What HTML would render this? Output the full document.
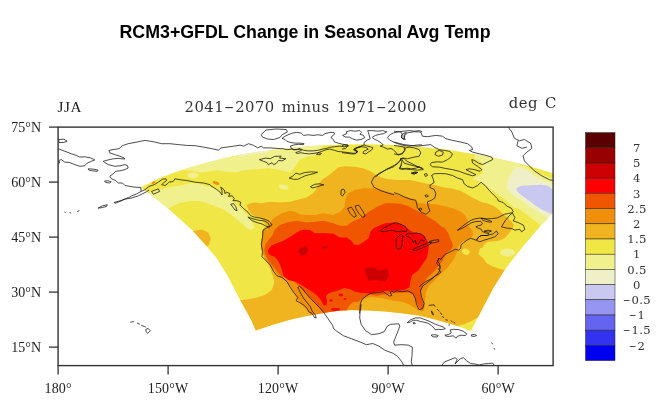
<!DOCTYPE html>
<html><head><meta charset="utf-8"><title>RCM3+GFDL Change in Seasonal Avg Temp</title>
<style>
html,body{margin:0;padding:0;background:#fff;}
body{width:670px;height:420px;position:relative;overflow:hidden;}
.ttl{font-family:"Liberation Sans",sans-serif;font-weight:bold;font-size:17.8px;fill:#000;}
.sub{font-family:"DejaVu Serif","Liberation Serif",serif;font-size:14.8px;letter-spacing:0.45px;word-spacing:2px;fill:#333;}
.jja{font-family:"Liberation Serif",serif;font-size:15.2px;letter-spacing:0.6px;fill:#222;}
.ax{font-family:"Liberation Serif",serif;font-size:14px;fill:#222;}
.axb{font-family:"Liberation Serif",serif;font-size:14px;letter-spacing:0.15px;fill:#222;}
.cbl{font-family:"DejaVu Serif","Liberation Serif",serif;font-size:11.6px;letter-spacing:0.4px;fill:#333;}
</style></head><body>
<svg width="670" height="420" viewBox="0 0 670 420" style="position:absolute;left:0;top:0">
<defs><clipPath id="dom"><polygon points="141.0,187.5 158.0,178.8 175.5,172.0 193.0,166.5 208.0,162.5 226.0,157.8 242.7,154.2 259.3,151.7 276.0,149.5 292.7,147.8 309.3,146.3 326.0,145.2 345.0,144.4 363.4,144.2 380.0,144.5 394.8,145.2 404.7,145.8 419.0,146.8 430.0,148.0 448.0,149.7 464.7,152.5 481.3,155.3 498.0,158.7 514.7,162.5 531.3,166.7 548.0,171.7 552.7,173.3 560.0,176.0 560.0,207.0 552.7,212.7 541.3,225.0 531.3,236.7 524.2,245.0 513.3,258.5 503.3,272.0 493.3,288.0 483.3,307.0 470.8,331.2 464.6,328.6 455.0,325.2 445.5,322.4 435.3,319.6 418.7,315.6 402.0,313.2 385.3,311.5 368.7,310.4 352.0,310.0 340.0,310.6 326.0,312.4 306.7,316.0 290.0,319.8 273.3,324.6 255.8,330.4 251.0,319.5 238.5,297.0 227.0,274.8 217.0,258.8 204.5,243.8 192.0,230.0 179.5,218.8 167.0,207.5 154.5,197.5"/></clipPath><clipPath id="frm"><rect x="58.1" y="127.1" width="495.0" height="238.50000000000003"/></clipPath></defs>
<g clip-path="url(#frm)"><g clip-path="url(#dom)" shape-rendering="auto">
<rect x="100" y="120" width="480" height="240" fill="#f0e646"/>
<polygon points="183.0,170.0 193.0,171.0 200.5,172.5 208.0,171.7 217.0,170.2 226.0,171.7 236.0,172.5 246.0,170.0 256.0,169.2 267.7,168.3 276.0,169.2 282.7,170.8 289.3,172.5 292.7,170.0 296.0,165.0 299.3,160.0 306.0,156.7 316.0,155.0 323.0,146.0 323.0,130.0 183.0,130.0" fill="#f0f08c"/>
<polygon points="148.0,193.0 160.0,189.5 170.0,187.0 180.0,185.5 190.0,183.0 200.0,184.0 208.0,186.5 217.0,189.0 224.0,194.0 231.0,199.0 237.0,205.0 244.5,212.5 252.0,220.0 254.5,228.0 251.0,230.0 247.0,228.5 242.0,223.8 234.5,217.5 224.5,210.0 212.0,205.0 200.0,201.0 190.0,201.0 180.0,203.0 172.0,206.5 166.0,210.0 140.0,200.0" fill="#f0f08c"/>
<polygon points="476.0,148.0 474.0,158.0 481.0,162.0 483.0,173.0 472.0,179.0 481.0,182.0 492.0,190.0 500.0,196.0 508.0,202.0 514.0,208.0 518.0,208.3 524.7,213.3 531.3,218.3 538.0,223.3 541.0,226.0 565.0,215.0 565.0,178.5 552.7,178.5 546.0,176.0 538.0,172.5 528.0,167.5 518.0,163.5 518.0,148.0" fill="#f0f08c"/>
<ellipse cx="283.7" cy="187" rx="5" ry="2.2" fill="#f0f08c" transform="rotate(15 283.7 187)"/>
<ellipse cx="193" cy="175.4" rx="5.5" ry="3" fill="#f0f08c"/>
<ellipse cx="507.5" cy="252.5" rx="7.5" ry="4" fill="#f0f08c"/>
<polygon points="518.0,166.7 514.7,168.3 511.3,173.3 508.0,180.0 506.3,186.7 509.7,191.7 514.7,196.7 521.3,200.0 529.7,206.7 538.0,211.7 546.3,217.5 565.0,212.0 565.0,183.7 552.7,183.7 544.7,180.8 538.0,178.3 531.3,173.3 524.7,169.2" fill="#f0f0c8"/>
<polygon points="239.0,157.2 246.0,155.2 254.0,154.0 262.0,153.0 270.0,152.2 270.0,148.0 239.0,152.0" fill="#f0f0c8"/>
<polygon points="516.3,188.3 521.3,185.8 531.3,185.3 541.3,184.7 548.0,185.8 552.7,190.0 565.0,195.0 565.0,216.0 552.2,214.2 548.0,212.5 541.3,209.2 534.7,205.0 528.0,200.0 521.3,195.0 517.0,191.0" fill="#c8c8f0"/>
<polygon points="246.7,205.0 253.3,202.5 261.7,203.3 270.0,201.7 280.0,202.5 290.0,201.7 296.7,200.0 306.7,197.5 313.3,193.0 317.0,188.3 319.3,183.3 322.7,179.2 329.3,175.0 338.0,167.5 344.7,166.3 354.7,166.7 363.0,168.3 371.3,171.7 376.3,175.0 381.3,177.5 388.0,179.2 398.0,180.0 408.6,180.0 417.2,181.5 425.8,183.6 434.4,185.0 443.0,187.2 451.6,188.6 460.2,190.8 467.3,194.4 474.5,198.7 481.7,202.2 487.8,203.6 493.7,206.0 498.5,209.6 502.1,213.1 511.6,221.5 514.0,225.1 511.6,229.9 508.1,234.6 504.5,238.2 499.7,240.6 493.7,241.2 487.8,241.8 484.2,244.2 482.4,247.8 480.0,248.3 478.3,254.2 483.3,258.3 486.7,263.3 493.3,266.7 502.5,269.7 535.0,272.0 535.0,305.0 482.0,314.0 480.0,315.5 475.2,319.1 470.4,321.5 464.5,323.9 458.5,325.7 455.0,328.0 452.0,345.0 230.0,345.0 230.0,301.0 241.7,300.0 248.3,299.2 256.7,297.5 265.0,295.0 271.7,290.0 274.2,283.3 273.3,276.7 270.0,268.3 267.0,262.0 264.5,258.7 262.0,251.5 260.8,244.3 262.0,237.0 262.5,230.0 266.0,225.8 262.0,220.0 256.7,216.7 252.5,215.0 248.3,210.0" fill="#f0b420"/>
<polygon points="190.0,231.5 202.0,229.5 208.3,232.5 210.8,238.8 209.0,245.0 206.0,246.5 200.0,246.0" fill="#f0b420"/>
<ellipse cx="465.8" cy="251.7" rx="4" ry="3" fill="#f0e646" transform="rotate(20 465.8 251.7)"/>
<ellipse cx="153.5" cy="182.5" rx="2" ry="1.2" fill="#f0900a" transform="rotate(-30 153.5 182.5)"/>
<ellipse cx="216" cy="183" rx="3.5" ry="1.5" fill="#f0900a" transform="rotate(20 216 183)"/>
<polygon points="266.7,230.0 269.2,225.8 271.7,220.0 275.8,216.7 281.7,213.3 290.0,210.8 295.0,211.7 300.0,214.2 306.7,215.0 315.0,215.0 323.3,213.3 333.3,215.0 340.0,211.7 344.5,206.7 345.5,199.0 348.0,193.3 354.7,190.0 363.0,188.3 371.3,188.3 379.7,189.2 388.0,191.7 396.3,194.2 400.0,195.8 407.2,197.2 414.3,199.4 418.6,203.0 428.7,203.7 437.2,204.4 445.8,206.5 454.4,208.7 461.6,212.3 465.9,216.6 468.0,220.9 467.5,223.9 469.9,227.5 472.8,231.0 472.8,235.8 469.9,238.2 463.9,240.6 460.3,244.2 458.3,246.7 456.7,253.3 453.3,260.0 448.3,266.7 441.7,273.3 435.0,280.0 428.3,286.7 425.8,293.3 425.0,303.3 424.2,310.0 422.0,311.5 417.8,310.0 413.7,307.5 408.7,304.2 402.0,301.7 393.7,300.8 386.0,299.0 381.7,298.0 376.0,297.5 370.2,297.3 365.9,298.5 361.6,301.5 360.9,305.8 361.6,310.8 361.0,320.0 314.0,320.0 307.0,310.0 300.0,303.0 296.0,296.0 291.0,288.0 286.0,281.5 281.0,277.5 276.0,273.0 271.0,267.0 266.5,261.0 264.0,256.0 262.3,251.5 261.0,244.3 262.2,237.2 263.0,230.0" fill="#f0900a"/>
<polygon points="264.9,253.9 264.3,249.1 265.5,244.3 269.1,239.6 272.7,234.8 274.5,230.0 280.0,225.0 286.7,222.5 296.7,220.8 306.7,222.5 315.0,221.7 323.3,220.8 333.3,223.3 340.0,225.8 346.7,225.8 352.0,221.7 360.3,218.3 368.7,211.7 377.0,206.7 385.3,203.3 393.7,203.3 400.0,203.7 407.2,205.8 414.3,209.4 421.5,213.0 428.7,217.3 435.8,221.6 441.5,226.5 444.8,228.0 448.4,233.4 450.7,239.4 452.5,243.0 453.0,246.0 451.5,249.0 447.3,252.5 444.8,256.4 442.5,261.0 438.5,266.0 434.5,271.0 428.3,276.7 423.3,283.3 420.3,293.3 423.7,305.0 422.0,310.0 418.7,306.7 416.2,301.7 413.7,295.0 408.7,292.5 402.0,292.5 393.7,293.3 377.0,295.8 370.2,294.8 365.9,296.0 361.6,298.7 358.8,301.5 353.0,302.2 350.2,304.4 347.3,308.7 347.0,320.0 322.0,320.0 323.0,313.0 318.7,307.2 311.5,299.3 304.3,292.0 298.6,285.8 293.0,281.0 285.8,278.4 281.0,276.0 277.5,271.8 272.7,265.8 267.9,259.9" fill="#f05500"/>
<polygon points="268.5,253.9 267.9,250.3 271.5,245.5 277.5,243.1 283.4,240.7 289.4,237.2 295.4,233.6 300.1,230.5 303.3,229.7 310.0,230.0 315.0,233.3 323.3,233.0 333.3,233.7 340.0,237.5 346.7,237.5 351.7,241.0 354.0,244.5 358.7,245.0 363.7,241.7 368.7,238.3 370.3,231.7 373.7,228.3 380.3,225.0 385.3,223.3 393.7,222.5 400.0,223.7 402.0,225.0 407.0,228.3 412.0,231.7 418.7,233.3 423.7,235.8 427.0,240.0 428.7,245.0 428.3,251.7 426.7,258.3 422.0,265.0 418.7,270.0 412.0,275.0 410.3,281.7 409.5,287.5 403.7,290.0 395.3,290.8 385.3,290.8 377.0,291.7 370.2,293.4 361.6,292.9 354.5,291.5 350.2,289.3 344.4,287.9 337.3,290.8 331.5,292.2 328.0,293.8 326.0,296.5 327.0,301.0 326.5,305.5 323.5,305.0 320.5,299.5 316.0,294.5 310.5,290.8 305.3,287.5 300.3,284.2 295.0,281.5 288.2,280.0 283.4,275.4 282.2,270.6 280.4,265.8 278.1,261.0 275.1,256.9 271.5,255.7" fill="#ff0000"/>
<ellipse cx="340.8" cy="295" rx="2.2" ry="1.4" fill="#ff0000"/>
<ellipse cx="335.5" cy="309.4" rx="4.6" ry="1.4" fill="#ff0000"/>
<ellipse cx="331" cy="300.5" rx="1.6" ry="1.2" fill="#ff0000"/>
<ellipse cx="345" cy="299" rx="1.5" ry="1" fill="#ff0000"/>
<polygon points="297.8,250.3 301.3,247.9 305.5,246.1 307.9,247.9 307.3,252.7 304.9,255.1 301.3,255.7 299.0,253.3" fill="#cc0000"/>
<ellipse cx="324.6" cy="247.3" rx="3" ry="1.3" fill="#cc0000"/>
<polygon points="364.5,268.3 373.7,267.5 380.3,270.8 387.8,268.3 388.7,276.7 385.3,281.7 377.0,280.0 368.7,280.8 366.2,275.0" fill="#cc0000"/>
</g>
<g fill="none" stroke="#111" stroke-width="0.75" stroke-linejoin="round">
<polygon points="58.8,139.5 63.9,139.2 67.2,141.2 63.9,142.4 58.8,142.6"/>
<polyline points="58.0,148.7 64.7,151.2 71.4,153.8 76.4,155.4 79.7,157.1 84.8,156.8 90.6,157.9 94.8,159.9 90.6,161.6 87.3,163.0 84.8,165.8 79.7,166.3 74.7,164.6 69.7,162.5 64.7,162.1 61.3,159.6 58.8,160.4 59.7,163.0 58.0,163.0"/>
<polygon points="88.1,168.8 93.1,169.1 98.1,170.1 97.3,171.3 92.3,170.8 88.9,170.1"/>
<polygon points="104.5,181.0 108.2,180.8 111.2,181.8 109.8,183.0 105.7,182.5"/>
<polyline points="170.0,143.7 161.7,143.7 153.3,141.7 145.0,140.4 136.6,142.1 128.2,143.7 122.4,145.7 119.0,148.7 113.2,149.6 109.0,150.4 109.8,152.9 114.9,154.6 119.9,156.3 124.1,157.9 124.6,159.1 118.2,158.4 113.2,158.8 108.2,159.9 103.2,161.3 104.8,162.5 108.2,164.6 114.9,166.3 119.9,165.8 124.9,164.6 127.4,165.5 128.2,168.0 124.9,169.6 119.9,170.8 115.7,171.3 113.2,173.8 109.8,176.3 111.5,178.8 115.7,180.5 118.2,183.0 122.4,183.0 124.9,185.5 129.9,186.4 134.9,187.2 140.8,187.5 141.1,191.4 136.6,193.9 131.6,195.9 128.2,197.9"/>
<polyline points="141.1,191.4 145.0,189.7 149.1,186.4 154.2,184.7 158.3,182.2 162.5,179.2 165.9,178.8 166.7,180.5 164.2,182.2 161.7,184.7 165.0,185.5 168.4,183.0 170.0,181.3"/>
<polygon points="151.6,191.4 158.3,188.9 159.7,191.4 153.3,194.2"/>
<polyline points="128.2,197.5 121.5,200.4 114.0,202.5 114.9,203.4 119.9,201.4 124.9,199.2 131.6,198.0 138.3,195.9 146.6,191.7 149.1,190.0"/>
<polygon points="98.1,208.1 102.3,205.9 107.3,204.7 106.5,206.4 102.3,207.6"/>
<polyline points="64.4,211.9 65.7,212.6"/>
<polyline points="69.4,212.6 70.9,212.9"/>
<polyline points="76.9,211.6 79.4,210.6"/>
<polyline points="170.0,143.7 178.4,144.6 186.7,145.4 195.1,145.7 203.4,147.1 211.8,148.7 218.5,150.1 221.0,147.9 226.9,147.1 233.5,146.2 240.2,145.1 243.6,146.2 248.6,143.7 253.6,145.4 257.8,147.9 261.1,146.2 263.6,147.9 270.3,147.9 277.0,148.4 282.0,148.7"/>
<polyline points="170.0,182.2 173.3,181.3 175.0,178.8 180.0,179.7 186.7,180.5 195.1,182.2 203.4,183.0 210.1,184.7"/>
<polygon points="261.1,134.5 266.1,130.0 276.2,129.0 286.2,129.5 287.4,132.0 282.4,134.5 279.9,137.5 273.6,139.5 267.4,139.0 262.4,137.0"/>
<polygon points="341.3,189.7 343.9,189.2 345.1,192.2 342.6,196.0 340.8,194.7"/>
<polygon points="347.6,208.5 351.4,207.2 353.9,211.0 356.4,216.0 353.9,217.3 350.1,213.5"/>
<polygon points="355.1,206.0 358.9,205.2 362.7,211.0 365.2,216.0 362.7,217.3 358.9,213.5 356.4,209.7"/>
<polyline points="394.0,166.6 386.5,169.6 379.0,173.4 373.9,177.2 371.4,182.2 373.9,187.2 381.5,190.9 389.0,193.4 394.0,194.7"/>
<polyline points="394.0,131.2 400.7,132.0 402.4,134.5 401.5,137.9 404.0,139.5 404.9,135.4 407.4,132.9 414.1,131.7 420.8,132.0 422.4,136.2 427.4,136.7 435.8,135.4 442.5,136.2 445.8,138.7 452.5,140.4 460.9,142.1 467.6,143.7 471.8,147.1 472.6,149.6 469.3,150.4 472.6,152.1 479.3,153.8 486.0,155.4 491.8,157.1 492.7,159.6 487.6,162.1 482.6,164.6 478.4,163.0 474.3,160.4 471.8,159.6 472.6,163.0 477.6,166.3 481.8,169.6 480.1,171.3 474.3,169.6 469.3,168.8 465.9,169.6 470.9,172.2 475.9,174.7 472.6,175.8 465.9,173.8 459.2,171.3 452.5,169.6 445.8,168.5 439.2,167.1 432.5,166.8 430.0,164.6 431.6,162.5 437.5,161.8 442.5,162.1 447.5,159.6 450.9,157.1 452.5,153.8 449.2,151.2 444.2,150.4 439.2,149.6 434.1,147.1 430.8,144.6 424.1,145.4 417.4,146.2 410.7,145.4 404.0,144.6 397.3,142.9 394.0,142.1"/>
<polygon points="435.8,152.1 439.2,150.4 443.3,152.1 442.5,155.1 438.3,156.3 435.0,154.6"/>
<polyline points="394.0,145.4 399.0,146.2 404.0,147.1 404.9,150.4 402.4,153.8 397.3,154.6 394.0,153.8"/>
<polyline points="394.0,166.3 397.3,163.8 400.7,159.6 402.4,157.9 407.4,158.8 414.1,157.1 419.1,156.3 420.8,152.9 419.1,149.6 414.1,147.9 409.1,147.1 405.7,147.9"/>
<polyline points="401.5,158.8 404.0,163.0 409.1,164.6 415.7,166.3 422.4,168.0 423.3,169.6 417.4,170.1 410.7,169.6 404.0,168.8 399.9,168.0 401.5,164.6"/>
<polygon points="411.6,173.5 414.9,172.2 417.4,172.5 414.1,174.2"/>
<polygon points="424.4,174.2 426.6,173.5 427.4,175.5 425.4,176.5"/>
<polyline points="431.6,175.5 434.1,173.8 439.2,173.5 445.8,173.8 452.5,175.5 457.5,178.0 462.6,179.7 464.2,183.9 467.6,186.4 472.6,188.0 477.6,185.5 481.0,182.2 485.1,185.5 489.3,190.5 494.3,195.6 497.7,198.9"/>
<polyline points="431.6,175.1 433.3,179.3 434.1,182.6 430.0,185.1 430.0,187.6 434.1,189.3 435.8,193.5 435.0,197.7 431.6,200.2 427.4,201.8 428.3,206.9 430.0,211.0 425.8,214.4 420.8,211.9 417.4,207.7 416.6,203.5 415.7,200.2 410.7,199.3 404.0,196.8 399.0,194.3 394.0,192.6"/>
<polygon points="424.9,195.5 427.1,194.8 428.4,196.2 426.1,197.2"/>
<polygon points="419.1,208.9 420.8,207.9 421.9,209.5 419.9,210.5"/>
<polyline points="508.1,127.0 511.9,132.0 514.4,138.3 519.4,140.8 524.4,139.5 530.7,143.3 531.9,148.3 526.9,152.1 523.1,155.8 524.4,160.9 529.4,165.9 534.4,170.9 541.9,175.9 549.5,179.7 554.5,180.9"/>
<polyline points="518.1,140.8 516.9,145.8 521.9,148.3 526.9,147.1"/>
<polyline points="476.3,240.3 473.6,239.2 470.3,238.4 467.0,240.1 463.6,242.6 461.1,245.1 460.6,248.4 458.6,250.1 455.3,249.3 451.9,251.0 448.6,252.6 445.2,254.3 442.7,256.8 441.0,259.3 438.5,258.5 437.7,261.8 439.4,263.5 440.2,266.8 438.5,269.3 441.0,271.9 439.4,273.5 435.2,276.0 430.2,279.4 425.2,281.9 421.8,284.4 419.3,286.9"/>
<polyline points="439.1,258.3 436.6,263.3 440.4,267.1 439.1,272.1 434.1,277.1 427.9,282.2 422.8,285.9 420.3,290.9 421.6,297.2 424.1,303.5 422.8,308.5 419.1,309.7 416.6,304.7 415.3,298.4 412.8,293.4 407.8,290.9 401.5,291.7 396.5,290.9 394.0,292.2"/>
<polyline points="394.0,292.3 391.8,291.1 390.1,291.8 391.8,295.5 389.6,296.0 386.3,293.9 383.8,291.8 377.1,292.6 370.4,293.4 366.2,296.0 362.0,299.3 360.4,303.5 360.0,308.5 359.5,313.5"/>
<polyline points="361.2,304.4 360.1,311.7 359.7,318.0 361.2,324.3 365.4,330.5 371.6,334.7 379.0,333.7 384.2,331.6 387.3,326.3 390.4,324.3 398.8,323.8 399.8,326.3 397.8,331.6 395.7,336.8 393.6,342.0 394.6,345.1 401.9,344.7 408.2,345.1 412.4,347.2 412.0,355.6 411.3,361.9 412.4,366.0"/>
<polyline points="332.8,325.7 333.4,328.4 337.2,331.6 343.4,335.7 351.8,338.9 360.1,342.0 366.4,344.7 372.7,343.5 379.0,346.2 385.2,350.4 393.6,353.5 397.8,356.6 401.9,361.9 404.0,366.0"/>
<polyline points="491.6,342.6 492.7,344.3"/>
<polyline points="493.7,348.3 495.2,349.3"/>
<polyline points="440.4,367.1 444.6,361.9 449.8,359.8 455.1,357.7 457.2,359.4 455.1,364.0 456.1,362.9 460.3,358.7 463.4,357.7 466.6,360.8 470.7,363.5 474.9,364.0 479.1,365.0 483.3,364.0 488.5,363.5 492.7,363.1 494.8,366.0"/>
<polyline points="263.1,230.0 262.5,237.2 261.3,244.3 262.5,251.5 262.0,256.7 265.3,260.0 270.3,265.0 273.7,271.7 277.0,275.8 282.0,277.5 287.0,281.7 290.3,287.5 293.7,292.5 297.8,297.5 296.2,300.8 299.5,302.5 303.7,305.0 307.0,308.3 308.7,311.7 312.0,313.3 314.5,317.5 316.2,318.0 315.3,315.0 312.0,310.8 310.3,306.7 307.0,302.5 303.7,298.3 301.2,294.2 299.5,290.8 297.8,287.5 299.5,286.3 302.0,288.3 305.3,292.5 310.3,298.3 315.3,303.3 320.3,308.3 323.7,312.5 327.8,318.3 331.2,323.3 332.8,325.8"/>
<polyline points="130.3,322.3 133.9,321.5"/>
<polyline points="136.9,323.1 139.9,324.3"/>
<polyline points="141.3,325.3 145.8,327.1"/>
<polygon points="145.8,329.5 148.0,328.3 150.4,330.7 147.6,333.4 146.2,331.9"/>
<polygon points="282.0,138.3 284.4,136.6 288.0,134.8 292.7,133.0 296.3,132.4 301.1,133.0 303.5,135.4 308.3,134.8 313.0,135.4 317.8,134.8 322.6,135.4 325.0,133.6 329.8,132.4 333.9,132.4 334.5,134.2 332.1,136.0 331.0,137.7 333.3,139.5 334.5,141.9 338.1,143.1 342.9,144.3 347.7,144.9 348.3,146.1 344.1,146.7 339.3,146.1 334.5,146.7 329.8,147.3 326.2,148.5 322.6,149.1 317.8,150.3 313.0,150.9 308.3,150.9 303.5,150.3 301.1,149.1 297.5,149.4 293.9,149.9 291.0,147.9 290.4,146.1 293.9,144.9 298.7,144.3 303.5,144.7 304.1,143.7 299.9,143.1 295.1,143.1 290.4,142.5 286.8,141.3 285.0,139.5"/>
<polyline points="282.0,148.5 286.8,149.7 291.6,149.1 296.3,149.7 299.9,148.5 301.7,150.3 298.7,151.5 295.7,152.7 297.5,153.5 301.1,152.7 304.7,153.5 309.5,153.9 314.2,153.3 317.8,152.7 321.4,153.3 320.2,154.7 316.6,154.5 317.8,152.7 321.4,151.5 326.2,149.7 329.8,149.1 334.5,150.3 338.1,151.5 344.1,152.1 348.9,152.7 353.6,153.3 357.2,152.7 356.6,150.9 353.6,149.7 356.0,147.9 359.6,146.7 362.0,146.1"/>
<polygon points="342.6,135.4 346.8,133.6 346.2,131.8 350.4,130.6 355.1,131.2 359.9,130.6 361.7,132.4 359.9,134.2 363.5,135.4 364.7,137.7 361.1,139.5 356.3,140.1 352.7,138.9 349.2,137.1 345.6,137.1"/>
<polyline points="358.1,151.5 355.1,150.9 353.9,149.1 356.3,147.9 359.9,146.7 364.1,144.9 364.1,142.5 367.1,140.1 370.1,138.9 368.9,134.2 367.7,130.6 371.9,130.6 377.8,131.2 382.6,130.6 386.8,131.8 383.8,133.6 380.2,134.2 375.4,135.4 372.4,137.1 373.6,138.9 377.8,140.7 381.4,143.1 383.2,144.9 380.2,146.1 383.8,147.3 387.4,149.1 391.0,148.5 393.3,149.7 395.7,152.1 398.1,155.1 401.7,153.9 404.1,150.9 405.3,148.5 404.7,146.7"/>
<polyline points="422.0,131.8 419.6,130.6 414.8,131.2 408.9,130.6 404.1,131.2 398.1,131.8 393.3,133.0 389.8,134.8 387.4,137.7 389.8,140.1 394.5,142.5 399.3,144.3 404.1,145.5 408.9,146.1 413.6,145.5 418.4,144.9 422.0,144.9"/>
<polygon points="401.1,136.0 402.9,133.6 406.5,132.4 404.1,134.8 404.1,137.7 405.3,139.5 402.3,138.3"/>
<polyline points="342.0,149.1 345.6,148.5 348.0,145.5 344.4,144.9 342.0,145.5"/>
<polyline points="342.0,152.7 346.8,153.3 351.6,153.9 355.1,153.9 357.5,151.5 355.1,149.7 357.5,147.9 361.1,146.7 365.9,147.3 368.3,149.1 365.9,150.3 363.5,151.5 362.9,153.3 365.9,153.9 368.3,152.1 371.3,150.3 373.0,147.9 370.1,146.7 367.1,146.1 364.1,144.9"/>
<polyline points="375.4,177.0 379.0,174.2 382.6,171.8 386.2,169.4 389.8,167.6 394.5,165.2 398.1,162.8 400.5,160.4 400.5,158.6 404.1,158.6 406.5,161.0 410.1,162.8 414.8,165.2 419.6,167.6 422.0,168.8"/>
<polyline points="400.5,158.6 401.7,161.6 401.1,165.2 399.3,168.8 402.9,169.4 406.5,168.2 411.3,168.8 416.0,168.2 419.6,166.4"/>
<polygon points="411.3,173.0 414.8,172.1 417.8,172.4 414.8,173.8"/>
<polygon points="259.4,159.7 265.3,158.1 270.3,158.7 274.5,156.4 281.2,156.1 279.5,158.1 285.9,158.7 282.0,160.9 278.7,160.4 276.2,163.4 273.7,164.7 272.0,162.6 268.6,164.7 267.0,162.6 263.6,161.4"/>
<polygon points="289.2,178.1 292.9,176.0 295.9,173.1 299.6,174.3 304.6,172.6 311.3,171.8 317.6,172.3 313.0,173.8 308.8,174.8 304.6,176.0 301.3,177.6 297.9,179.3 293.7,179.3"/>
<polygon points="310.4,186.8 314.6,184.3 319.6,183.8 323.8,184.8 319.6,186.0 315.5,187.2 312.1,188.0"/>
<polyline points="497.7,198.9 498.2,200.9 503.2,202.5 506.5,205.9 511.5,208.4 513.2,211.7 512.2,212.8 508.7,213.4 504.5,214.3 500.9,216.1 497.3,217.9 492.5,218.5 487.8,218.9 484.2,218.5 479.4,218.1 474.6,218.9 471.0,220.3 466.3,223.3 461.5,226.9 457.3,230.4 462.7,228.1 467.5,225.1 471.6,222.7 475.8,221.5 480.6,221.3 482.4,223.3 481.2,225.1 478.2,225.7 475.8,226.9 478.2,228.1 481.2,229.3 482.4,231.6 485.4,232.8 489.0,233.6 487.3,235.5 481.4,235.5 478.9,236.8 476.4,240.2"/>
<polygon points="481.3,218.0 485.5,219.2 489.7,220.6 492.0,221.8 489.7,222.1 485.5,221.3 482.0,219.7"/>
<polygon points="501.5,226.8 505.0,221.0 509.0,216.0 512.4,212.9 514.9,217.6 513.2,220.9 518.2,222.6 523.3,225.1 524.9,229.3 521.6,231.8 519.9,229.3 514.9,230.1 511.5,228.5 506.5,228.1"/>
<polygon points="476.4,240.2 478.9,236.8 481.4,235.5 487.3,235.5 493.2,233.8 496.5,231.0 498.2,233.8 494.8,236.8 489.8,238.5 484.0,240.2 479.8,241.8"/>
<polygon points="484.0,231.2 488.0,230.2 491.5,231.0 488.5,232.2"/>
<polygon points="407.2,322.7 410.7,319.7 415.5,317.9 420.3,317.9 425.1,319.7 429.9,321.5 434.6,323.9 439.4,325.7 443.0,326.9 445.4,328.7 441.8,329.6 438.2,329.3 435.2,329.9 434.0,328.1 431.6,325.7 428.1,323.3 423.9,322.1 420.3,321.5 416.7,320.3 413.1,320.3 410.1,322.1"/>
<polygon points="413.1,322.7 414.6,322.4 415.3,323.6 413.7,323.9"/>
<polygon points="431.0,335.2 434.6,334.6 438.2,335.5 437.0,337.0 432.8,336.8"/>
<polygon points="444.8,335.2 448.4,334.6 451.3,332.8 450.1,329.9 453.7,329.3 458.5,329.6 463.3,331.3 466.9,334.0 465.1,335.6 460.9,335.2 457.3,336.4 456.1,338.2 453.1,335.8 449.0,336.4 446.0,336.2"/>
<polygon points="471.4,334.9 474.6,334.4 476.7,335.5 474.6,336.4 471.6,336.2"/>
<polyline points="428.7,305.4 434.0,304.8 435.2,306.6"/>
<polygon points="431.3,311.0 432.5,311.9 433.4,314.9 432.0,313.7"/>
<polyline points="437.0,309.0 439.4,311.3"/>
<polyline points="440.4,312.5 441.8,314.9"/>
<polyline points="442.5,316.1 443.6,317.9"/>
<polyline points="445.4,319.7 447.8,320.3"/>
<polyline points="450.7,320.5 452.5,322.1"/>
<polyline points="453.7,322.1 455.2,323.3"/>
<polyline points="448.4,325.1 450.1,324.8"/>
<polygon points="380.4,231.0 382.9,228.5 388.0,226.0 393.0,223.4 396.3,222.6 400.5,224.3 404.7,226.0 407.2,229.3 406.3,231.8 402.2,231.0 398.8,231.8 394.6,231.0 391.3,230.1 387.1,231.0 383.8,231.8"/>
<polygon points="396.3,238.5 398.8,236.0 401.3,234.3 403.0,236.0 402.2,240.2 402.2,245.2 400.5,248.5 398.0,249.4 396.3,246.9 395.8,242.7"/>
<polygon points="405.5,235.2 408.9,233.1 412.2,233.8 416.4,233.1 420.6,233.8 423.9,236.0 425.6,239.3 423.9,241.0 421.4,239.8 419.7,241.8 418.1,244.3 415.9,243.2 415.2,240.2 413.5,242.7 412.2,240.2 410.5,237.7 408.0,236.8"/>
<polygon points="413.0,249.4 418.1,246.9 423.1,244.8 428.1,242.7 431.4,241.8 430.6,243.8 426.4,246.0 421.4,248.2 416.4,250.2 413.5,250.5"/>
<polygon points="429.3,241.5 433.9,240.2 438.6,239.7 439.0,241.5 434.3,242.7 430.3,243.2"/>
<polyline points="210.1,184.7 210.7,185.7 216.4,189.3 220.0,192.1 222.1,195.0 221.9,190.0 220.7,187.1 224.3,190.0 225.0,193.6 226.4,192.1 230.0,193.6 228.6,196.4 232.1,195.7 234.3,198.6 232.9,200.7 237.1,200.7 240.7,202.1 240.0,205.0 243.6,208.6 247.9,212.1 250.7,215.7 254.3,217.1 259.3,217.9 265.0,219.3 269.3,221.4 272.1,225.0 263.1,230.0"/>
<polygon points="247.9,217.1 252.1,218.6 257.9,220.0 265.0,221.1 268.6,223.6 269.6,227.1 266.4,226.4 262.1,224.0 257.1,222.6 252.1,220.7"/>
<polygon points="230.7,204.3 233.6,203.6 235.7,206.4 237.1,210.7 235.0,210.0 232.9,207.1"/>
</g></g>
<rect x="58.1" y="127.1" width="495.0" height="238.50000000000003" fill="none" stroke="#333" stroke-width="1.4"/>
<text x="41" y="131.9" text-anchor="end" class="ax">75°N</text>
<text x="41" y="186.9" text-anchor="end" class="ax">60°N</text>
<text x="41" y="241.9" text-anchor="end" class="ax">45°N</text>
<text x="41" y="296.90000000000003" text-anchor="end" class="ax">30°N</text>
<text x="41" y="351.90000000000003" text-anchor="end" class="ax">15°N</text>
<text x="58.1" y="392.6" text-anchor="middle" class="axb">180°</text>
<text x="168.1" y="392.6" text-anchor="middle" class="axb">150°W</text>
<text x="278.1" y="392.6" text-anchor="middle" class="axb">120°W</text>
<text x="388.1" y="392.6" text-anchor="middle" class="axb">90°W</text>
<text x="498.1" y="392.6" text-anchor="middle" class="axb">60°W</text>
<line x1="49" y1="127.1" x2="58.1" y2="127.1" stroke="#333" stroke-width="1.3"/>
<line x1="49" y1="182.1" x2="58.1" y2="182.1" stroke="#333" stroke-width="1.3"/>
<line x1="49" y1="237.1" x2="58.1" y2="237.1" stroke="#333" stroke-width="1.3"/>
<line x1="49" y1="292.1" x2="58.1" y2="292.1" stroke="#333" stroke-width="1.3"/>
<line x1="49" y1="347.1" x2="58.1" y2="347.1" stroke="#333" stroke-width="1.3"/>
<line x1="58.1" y1="365.6" x2="58.1" y2="374.6" stroke="#333" stroke-width="1.3"/>
<line x1="168.1" y1="365.6" x2="168.1" y2="374.6" stroke="#333" stroke-width="1.3"/>
<line x1="278.1" y1="365.6" x2="278.1" y2="374.6" stroke="#333" stroke-width="1.3"/>
<line x1="388.1" y1="365.6" x2="388.1" y2="374.6" stroke="#333" stroke-width="1.3"/>
<line x1="498.1" y1="365.6" x2="498.1" y2="374.6" stroke="#333" stroke-width="1.3"/>
<rect x="585.5" y="132.6" width="29.5" height="15.2" fill="#5a0000" stroke="#222" stroke-width="0.5"/>
<rect x="585.5" y="147.8" width="29.5" height="15.2" fill="#990000" stroke="#222" stroke-width="0.5"/>
<rect x="585.5" y="163.0" width="29.5" height="15.2" fill="#cc0000" stroke="#222" stroke-width="0.5"/>
<rect x="585.5" y="178.2" width="29.5" height="15.2" fill="#ff0000" stroke="#222" stroke-width="0.5"/>
<rect x="585.5" y="193.4" width="29.5" height="15.2" fill="#f05500" stroke="#222" stroke-width="0.5"/>
<rect x="585.5" y="208.6" width="29.5" height="15.2" fill="#f0900a" stroke="#222" stroke-width="0.5"/>
<rect x="585.5" y="223.8" width="29.5" height="15.2" fill="#f0b420" stroke="#222" stroke-width="0.5"/>
<rect x="585.5" y="239.0" width="29.5" height="15.2" fill="#f0e646" stroke="#222" stroke-width="0.5"/>
<rect x="585.5" y="254.2" width="29.5" height="15.2" fill="#f0f08c" stroke="#222" stroke-width="0.5"/>
<rect x="585.5" y="269.4" width="29.5" height="15.2" fill="#f0f0c8" stroke="#222" stroke-width="0.5"/>
<rect x="585.5" y="284.6" width="29.5" height="15.2" fill="#c8c8f0" stroke="#222" stroke-width="0.5"/>
<rect x="585.5" y="299.8" width="29.5" height="15.2" fill="#9696f0" stroke="#222" stroke-width="0.5"/>
<rect x="585.5" y="315.0" width="29.5" height="15.2" fill="#6464f0" stroke="#222" stroke-width="0.5"/>
<rect x="585.5" y="330.2" width="29.5" height="15.2" fill="#3232f0" stroke="#222" stroke-width="0.5"/>
<rect x="585.5" y="345.4" width="29.5" height="15.2" fill="#0000f0" stroke="#222" stroke-width="0.5"/>
<text x="637" y="152.0" text-anchor="middle" class="cbl">7</text>
<text x="637" y="167.2" text-anchor="middle" class="cbl">5</text>
<text x="637" y="182.4" text-anchor="middle" class="cbl">4</text>
<text x="637" y="197.6" text-anchor="middle" class="cbl">3</text>
<text x="637" y="212.8" text-anchor="middle" class="cbl">2.5</text>
<text x="637" y="228.0" text-anchor="middle" class="cbl">2</text>
<text x="637" y="243.2" text-anchor="middle" class="cbl">1.5</text>
<text x="637" y="258.4" text-anchor="middle" class="cbl">1</text>
<text x="637" y="273.6" text-anchor="middle" class="cbl">0.5</text>
<text x="637" y="288.8" text-anchor="middle" class="cbl">0</text>
<text x="637" y="304.0" text-anchor="middle" class="cbl"><tspan textLength="8.6" lengthAdjust="spacingAndGlyphs">-</tspan>0.5</text>
<text x="637" y="319.2" text-anchor="middle" class="cbl"><tspan textLength="8.6" lengthAdjust="spacingAndGlyphs">-</tspan>1</text>
<text x="637" y="334.4" text-anchor="middle" class="cbl"><tspan textLength="8.6" lengthAdjust="spacingAndGlyphs">-</tspan>1.5</text>
<text x="637" y="349.6" text-anchor="middle" class="cbl"><tspan textLength="8.6" lengthAdjust="spacingAndGlyphs">-</tspan>2</text>
<text x="305" y="37.8" text-anchor="middle" class="ttl">RCM3+GFDL Change in Seasonal Avg Temp</text>
<text x="57.5" y="111.5" class="jja">JJA</text>
<text x="305.7" y="111.5" text-anchor="middle" class="sub">2041<tspan textLength="11.2" lengthAdjust="spacingAndGlyphs">-</tspan>2070 minus 1971<tspan textLength="11.2" lengthAdjust="spacingAndGlyphs">-</tspan>2000</text>
<text x="556.8" y="107.5" text-anchor="end" class="sub">deg C</text>
</svg>
</body></html>
